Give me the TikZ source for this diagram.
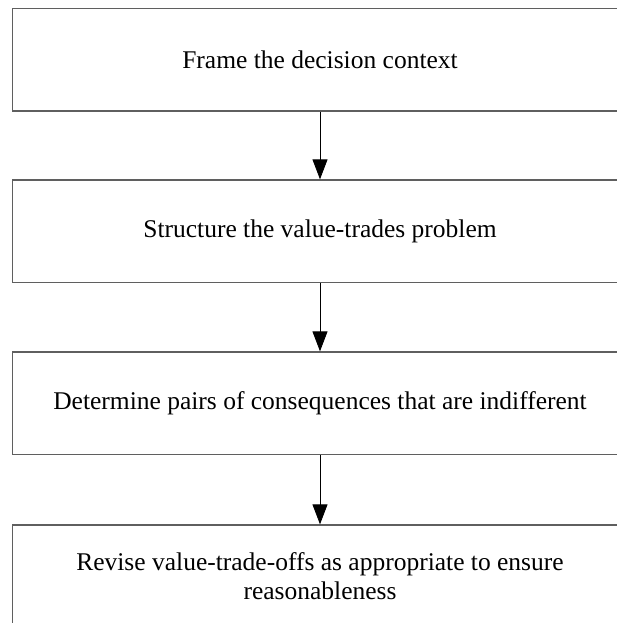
\documentclass[tikz,border=0pt]{standalone}
\usepackage{fontspec}
\setmainfont{Liberation Serif}
\usetikzlibrary{arrows.meta}
\definecolor{boxgray}{RGB}{95,95,95}
\begin{document}
\begin{tikzpicture}[x=1pt,y=-1pt,
  stepbox/.style={draw=boxgray, line width=1.3pt, minimum width=615pt, minimum height=102.5pt,
    inner sep=0pt, align=center, font=\fontsize{25.5}{29}\selectfont},
  flow/.style={draw=black, line width=0.9pt, -{Triangle[length=20pt,width=15pt]}}]
\useasboundingbox (0,0) rectangle (616,623);
\node[stepbox] (a) at (320,59.75) {Frame the decision context};
\node[stepbox] (b) at (320,231.25) {Structure the value-trades problem};
\node[stepbox] (c) at (320,403.25) {Determine pairs of consequences that are indifferent};
\node[stepbox] (d) at (320,576.25) {Revise value-trade-offs as appropriate to ensure\\reasonableness};
\draw[flow] (a) -- (b);
\draw[flow] (b) -- (c);
\draw[flow] (c) -- (d);
\end{tikzpicture}
\end{document}
